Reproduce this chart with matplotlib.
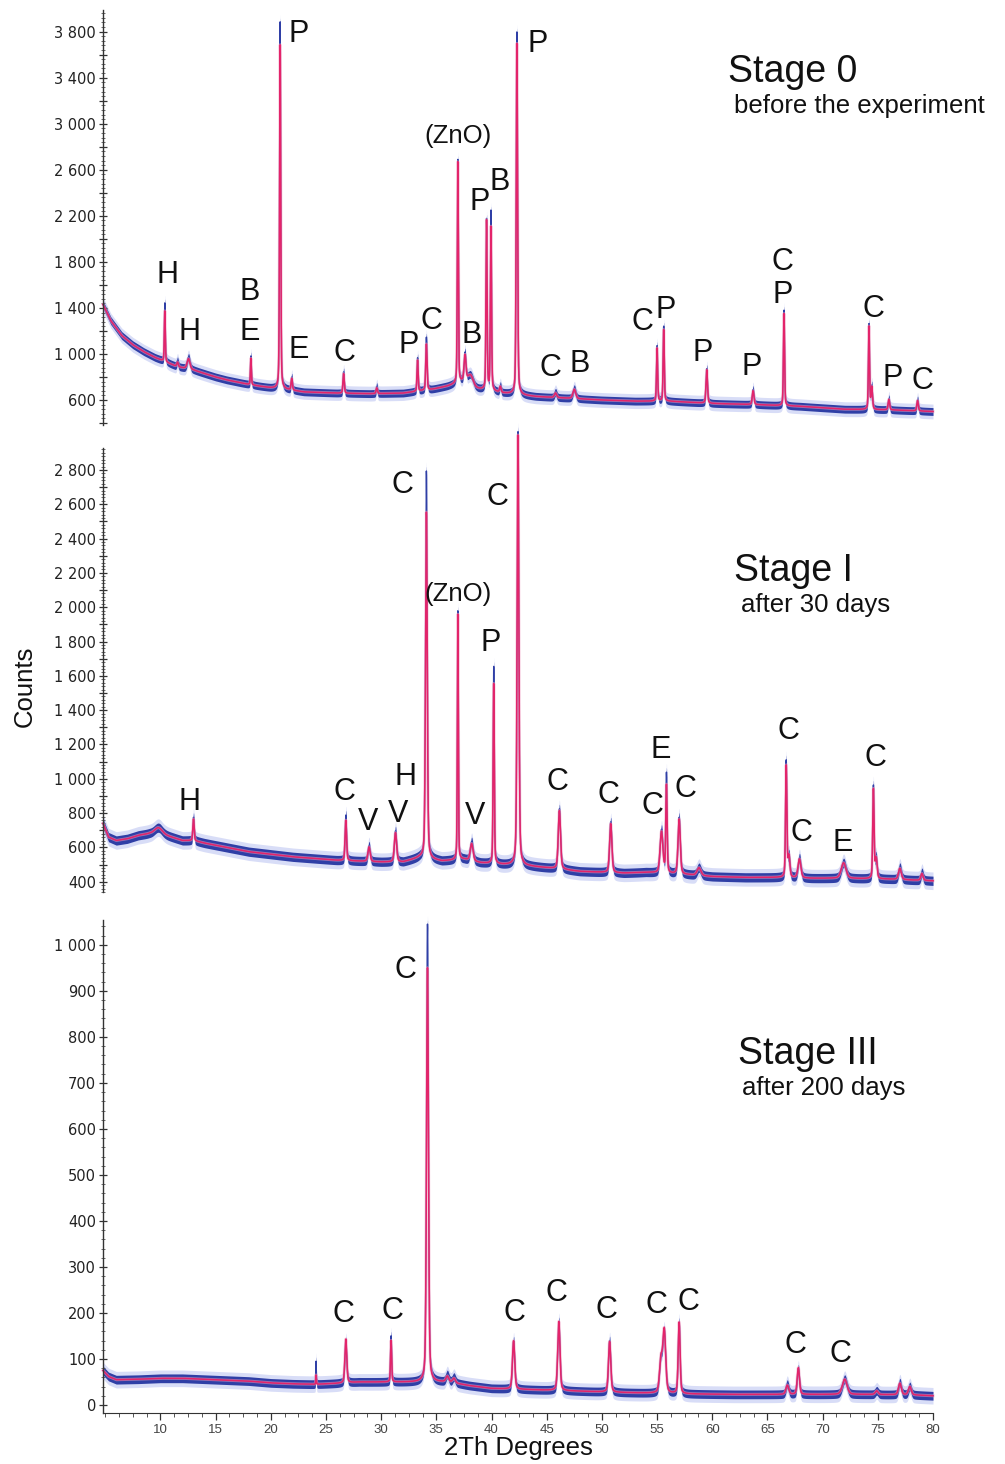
import numpy as np
import matplotlib
matplotlib.use("Agg")
import matplotlib.pyplot as plt
from matplotlib.ticker import MultipleLocator, FixedLocator, FuncFormatter

plt.rcParams['font.family'] = ['Liberation Sans', 'DejaVu Sans']

# ---------------- data ----------------
# Stage 0 : background anchors
bg0_x = [4.8, 5.5, 6.5, 7.5, 8.5, 9.5, 10.5, 11.5, 13, 14, 15, 16, 17, 18, 19, 20, 21.5, 23, 26, 29,
         32, 34.5, 36, 37.5, 38.5, 41, 44, 47, 50, 53, 56, 60, 64, 68, 72, 76, 80]
bg0_y = [1430, 1290, 1160, 1080, 1020, 970, 930, 890, 860, 830, 800, 775, 755, 735, 720, 705, 690, 670, 660, 655,
         660, 690, 720, 760, 700, 660, 630, 615, 600, 590, 590, 570, 560, 545, 520, 515, 500]
# Stage 0 : peaks (position, raw amplitude, smoothed amplitude, half width)
pk0_pos = [10.4, 11.55, 12.55, 18.2, 20.85, 21.9, 26.6, 29.6, 33.3, 34.1, 36.95, 37.6, 38.1, 39.55, 39.95,
           40.8, 42.3, 45.8, 47.5, 55.0, 55.6, 59.5, 63.7, 66.5, 74.2, 74.45, 76.0, 78.6]
pk0_raw = [510, 50, 100, 250, 3190, 110, 185, 60, 290, 460, 1940, 240, 90, 1480, 1560,
           55, 3150, 45, 85, 480, 650, 300, 130, 830, 740, 200, 95, 95]
pk0_smo = [440, 40, 90, 230, 2990, 100, 170, 50, 270, 400, 1920, 220, 90, 1470, 1420,
           50, 3050, 40, 80, 460, 620, 290, 120, 800, 720, 190, 90, 90]
pk0_wid = [0.05, 0.08, 0.15, 0.05, 0.06, 0.07, 0.07, 0.07, 0.06, 0.07, 0.055, 0.1, 0.3, 0.06, 0.06,
           0.08, 0.07, 0.12, 0.15, 0.06, 0.06, 0.08, 0.09, 0.06, 0.06, 0.08, 0.08, 0.08]

# Stage I
bg1_x = [4.8, 5.3, 6, 7, 8, 9, 10, 11, 12, 13, 14, 16, 18, 20, 22, 24, 26, 28, 30, 32, 33.5, 35.5, 37.5,
         39, 41, 43.5, 46, 48, 50, 52, 54, 58, 60, 63, 66, 69, 72, 76, 80]
bg1_y = [740, 660, 640, 650, 670, 680, 680, 660, 640, 640, 625, 600, 575, 560, 545, 535, 525, 520, 515, 515,
         540, 520, 530, 510, 500, 490, 475, 460, 455, 450, 455, 440, 430, 425, 425, 420, 420, 415, 405]
pk1_pos = [9.8, 13.0, 26.8, 28.9, 31.3, 34.1, 36.95, 38.2, 40.2, 42.4, 46.15, 50.8, 55.4, 55.85, 57.0,
           58.8, 66.7, 66.95, 67.9, 71.9, 74.6, 74.85, 77.0, 79.0]
pk1_raw = [35, 135, 265, 90, 180, 2260, 1450, 110, 1150, 2530, 350, 295, 250, 580, 330,
           45, 680, 120, 115, 90, 540, 120, 70, 45]
pk1_smo = [35, 125, 235, 85, 170, 2020, 1430, 100, 1050, 2510, 340, 285, 240, 510, 320,
           45, 650, 120, 110, 90, 520, 115, 65, 40]
pk1_wid = [0.4, 0.07, 0.08, 0.12, 0.12, 0.09, 0.05, 0.15, 0.06, 0.09, 0.12, 0.12, 0.15, 0.07, 0.12,
           0.2, 0.07, 0.1, 0.15, 0.25, 0.07, 0.1, 0.15, 0.12]

# Stage III
bg3_x = [4.8, 5.3, 6, 8, 10, 12, 14, 16, 18, 20, 22, 24, 26, 28, 30, 33, 36, 38, 40, 44, 48, 52, 54,
         58, 62, 66, 70, 74, 78, 80]
bg3_y = [75, 62, 55, 56, 58, 58, 56, 54, 52, 48, 46, 45, 47, 50, 50, 50, 50, 42, 36, 33, 30, 27, 26,
         24, 23, 23, 23, 23, 22, 20]
pk3_pos = [24.1, 26.8, 30.9, 34.2, 36.0, 36.6, 42.0, 46.1, 50.7, 55.35, 55.65, 57.0, 66.8, 67.8, 72.0,
           74.9, 77.0, 77.9]
pk3_raw = [50, 90, 100, 995, 15, 12, 105, 150, 112, 70, 130, 155, 22, 55, 33, 8, 26, 18]
pk3_smo = [20, 95, 90, 900, 12, 10, 105, 150, 110, 70, 135, 155, 20, 58, 33, 8, 25, 18]
pk3_wid = [0.03, 0.1, 0.06, 0.1, 0.15, 0.15, 0.12, 0.12, 0.12, 0.15, 0.15, 0.1, 0.15, 0.12, 0.25,
           0.15, 0.15, 0.15]

# phase labels: (text, 2theta, counts)
lab0 = [("H", 10.6, 1686), ("H", 12.6, 1191), ("B", 18.1, 1537), ("E", 18.1, 1191), ("P", 22.5, 3780),
        ("E", 22.5, 1035), ("C", 26.7, 1009), ("P", 32.5, 1077), ("C", 34.6, 1285), ("(ZnO)", 37.0, 2894),
        ("B", 38.2, 1164), ("P", 38.9, 2320), ("B", 40.7, 2494), ("P", 44.2, 3693), ("C", 45.3, 878),
        ("B", 48.0, 911), ("C", 53.7, 1277), ("P", 55.8, 1381), ("P", 59.1, 1009), ("P", 63.6, 887),
        ("C", 66.4, 1799), ("P", 66.4, 1512), ("C", 74.6, 1390), ("P", 76.3, 790), ("C", 79.0, 764)]
lab1 = [("H", 12.6, 865), ("C", 26.7, 923), ("V", 28.8, 748), ("V", 31.5, 795), ("H", 32.2, 1010),
        ("C", 31.9, 2713), ("(ZnO)", 37.0, 2077), ("V", 38.5, 783), ("P", 39.9, 1791), ("C", 40.5, 2643),
        ("C", 46.0, 981), ("C", 50.6, 905), ("C", 54.6, 841), ("E", 55.3, 1168), ("C", 57.6, 940),
        ("C", 66.9, 1278), ("C", 68.1, 684), ("E", 71.8, 626), ("C", 74.8, 1121)]
lab3 = [("C", 32.2, 946), ("C", 26.6, 198), ("C", 31.0, 204), ("C", 42.1, 200), ("C", 45.9, 243),
        ("C", 50.4, 207), ("C", 54.9, 217), ("C", 57.8, 224), ("C", 67.5, 130), ("C", 71.6, 111)]

stage_titles = [("Stage 0", "before the experiment"), ("Stage I", "after 30 days"),
                ("Stage III", "after 200 days")]
x_ticks = [10, 15, 20, 25, 30, 35, 40, 45, 50, 55, 60, 65, 70, 75, 80]

# ---------------- helpers ----------------
x = np.linspace(4.8, 80, 16000)


def profile(bx, by, pos, amp, wid):
    y = np.interp(x, bx, by)
    for p, a, w in zip(pos, amp, wid):
        d = (x - p) / w
        y = y + a * (0.35 / (1 + d * d) + 0.65 * np.exp(-np.log(2) * d * d))
    return y


def thousands(v, pos=None):
    return f"{v:,.0f}".replace(",", " ")


W, H = 1005, 1464
fig = plt.figure(figsize=(W / 100, H / 100), dpi=100)


def make_ax(top_px, bot_px, ylim):
    ax = fig.add_axes([103 / W, 1 - bot_px / H, 830 / W, (bot_px - top_px) / H])
    ax.set_xlim(4.8, 80)
    ax.set_ylim(*ylim)
    for s in ['top', 'right']:
        ax.spines[s].set_visible(False)
    ax.spines['left'].set_color('#333333')
    ax.spines['left'].set_linewidth(1.0)
    return ax


ax0 = make_ax(10, 425, (383, 3988))
ax1 = make_ax(448, 892, (340, 2928))
ax3 = make_ax(920, 1412.6, (-16.5, 1054))

panels = [
    (ax0, bg0_x, bg0_y, pk0_pos, pk0_raw, pk0_smo, pk0_wid, 34, lab0),
    (ax1, bg1_x, bg1_y, pk1_pos, pk1_raw, pk1_smo, pk1_wid, 27, lab1),
    (ax3, bg3_x, bg3_y, pk3_pos, pk3_raw, pk3_smo, pk3_wid, 9.5, lab3),
]
title_pos = [(61.4, 3450, 62.0, 3150), (62.0, 2210, 62.6, 2015), (62.3, 763, 62.7, 688)]

for i, (ax, bx, by, pp, pr, ps, pw, amp, labs) in enumerate(panels):
    raw = profile(bx, by, pp, pr, pw)
    smo = profile(bx, by, pp, ps, pw)
    ax.fill_between(x, raw - 1.9 * amp, raw + 1.9 * amp, color='#aab4ee', lw=0, alpha=0.45, clip_on=False)
    ax.fill_between(x, raw - amp, raw + amp, color='#2f3fa6', lw=0, clip_on=False)
    ax.plot(x, raw, color='#2f3fa6', lw=1.0, clip_on=False)
    ax.plot(x, smo, color='#f0a0c4', lw=2.2, alpha=0.55, clip_on=False)
    ax.plot(x, smo, color='#e3246a', lw=1.1, clip_on=False)
    for t, lx, ly in labs:
        fs = 18.5 if t.startswith('(') else 22
        ax.text(lx, ly, t, fontsize=fs, ha='center', va='center', color='#111111')
    tx, ty, sx, sy = title_pos[i]
    ax.text(tx, ty, stage_titles[i][0], fontsize=27, ha='left', va='center', color='#111111')
    ax.text(sx, sy, stage_titles[i][1], fontsize=18.5, ha='left', va='center', color='#111111')

# y-axis ticks
tick_kw = dict(axis='y', direction='inout', color='#333333', labelsize=10.5, labelcolor='#222222',
               labelfontfamily='DejaVu Sans')
ax0.yaxis.set_major_locator(FixedLocator(np.arange(400, 3801, 200)))
ax0.yaxis.set_major_formatter(FuncFormatter(lambda v, p: thousands(v) if (v - 600) % 400 == 0 else ""))
ax0.yaxis.set_minor_locator(MultipleLocator(40))
ax1.yaxis.set_major_locator(FixedLocator(np.arange(400, 2801, 100)))
ax1.yaxis.set_major_formatter(FuncFormatter(lambda v, p: thousands(v) if v % 200 == 0 else ""))
ax1.yaxis.set_minor_locator(MultipleLocator(20))
ax3.yaxis.set_major_locator(FixedLocator(np.arange(0, 1001, 100)))
ax3.yaxis.set_major_formatter(FuncFormatter(thousands))
ax3.yaxis.set_minor_locator(MultipleLocator(20))
for ax in (ax0, ax1, ax3):
    ax.tick_params(which='major', length=6, width=0.9, pad=2, **tick_kw)
    ax.tick_params(axis='y', which='minor', direction='inout', length=2.5, width=0.6, color='#555555')

for ax in (ax0, ax1):
    ax.spines['bottom'].set_visible(False)
    ax.set_xticks([])

ax3.spines['bottom'].set_color('#333333')
ax3.xaxis.set_major_locator(FixedLocator(x_ticks))
ax3.xaxis.set_minor_locator(MultipleLocator(1.25))
ax3.tick_params(axis='x', which='major', direction='out', length=5, width=0.9, color='#333333',
                labelsize=9.5, labelcolor='#444444', pad=3)
ax3.tick_params(axis='x', which='minor', direction='out', length=3, width=0.7, color='#555555')
ax3.set_xlabel("2Th Degrees", fontsize=18.5, color='#111111', labelpad=0)

fig.text(25 / W, 1 - 686 / H, "Counts", rotation=90, fontsize=18.5, ha='center', va='center',
         color='#111111')

fig.savefig("out.png", dpi=100)
